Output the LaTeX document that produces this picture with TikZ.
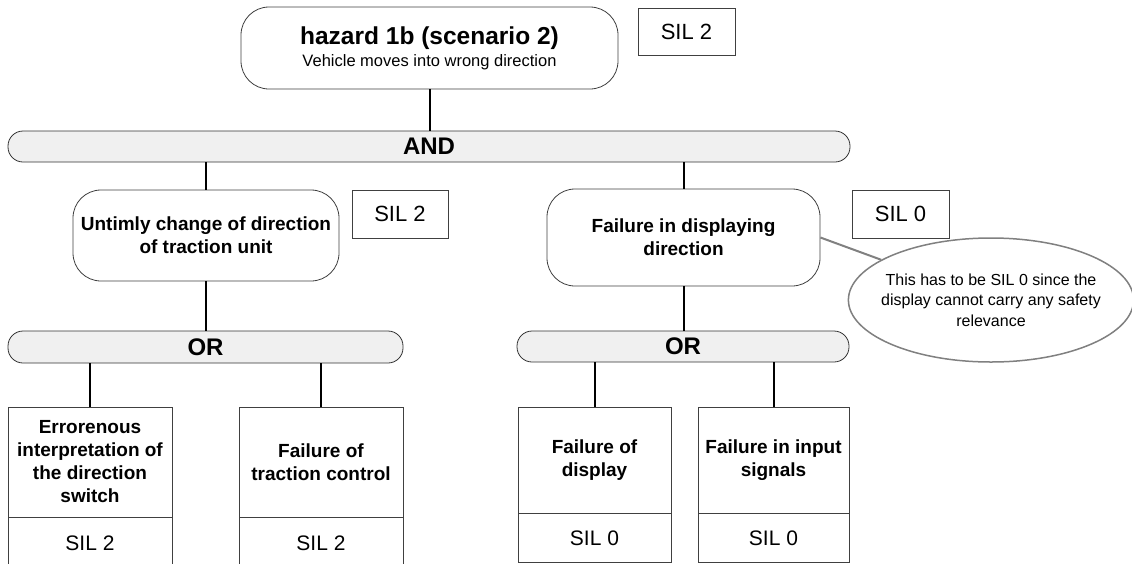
\documentclass[tikz,border=0pt]{standalone}
\usepackage{fontspec}
\setmainfont{Liberation Sans}
\usetikzlibrary{positioning,shapes.geometric}

\begin{document}
\begin{tikzpicture}[
  x=1pt,
  y=-1pt,
  eventNode/.style={draw=black!75, line width=0.8pt, fill=white, rounded corners=28pt, align=center, inner sep=0pt, font=\fontsize{19}{23}\selectfont\bfseries},
  gateBar/.style={draw=black!80, line width=0.8pt, fill=black!6, rounded corners=15pt, inner sep=0pt, font=\fontsize{24}{28}\selectfont\bfseries},
  silBox/.style={draw=black!75, line width=0.8pt, inner sep=0pt, minimum height=48pt, font=\fontsize{22}{25}\selectfont},
  basicBox/.style={draw=black!75, line width=0.8pt, inner sep=0pt, align=center, font=\fontsize{19}{23}\selectfont\bfseries},
  silPart/.style={draw=black!75, line width=0.8pt, inner sep=0pt, font=\fontsize{21}{24}\selectfont},
  noteEllipse/.style={ellipse, draw=black!50, line width=1.5pt, fill=white, inner xsep=-9pt, inner ysep=0pt, align=center, font=\fontsize{16}{20.5}\selectfont},
  noteLink/.style={draw=black!50, line width=2pt},
  stemLine/.style={line width=2pt, black}
]
\useasboundingbox (0,0) rectangle (1132,563);

% top event
\node[eventNode, minimum width=377pt, minimum height=82pt, font=\fontsize{16.5}{20}\selectfont] (hazard) at (429.5,48)
  {{\fontsize{24.5}{25}\selectfont\bfseries hazard 1b (scenario 2)}\\[2pt]Vehicle moves into wrong direction};
\node[silBox, minimum width=97pt, minimum height=47pt] (hazardSil) at (686.5,31.5) {SIL 2};

\node[gateBar, minimum width=842pt, minimum height=31pt] (andGate) at (429,146.5) {AND};

% second level
\node[eventNode, minimum width=266pt, minimum height=91pt] (untimely) at (206,235.5) {Untimly change of direction\\of traction unit};
\node[silBox, minimum width=96pt] (untimelySil) at (400,214) {SIL 2};

\node[eventNode, minimum width=273pt, minimum height=97pt] (dirFail) at (683.5,237.5) {Failure in displaying\\direction};
\node[silBox, minimum width=97pt] (dirFailSil) at (900.5,214) {SIL 0};

\node[noteEllipse, minimum width=278pt, minimum height=124pt] (note) at (991,300)
  {This has to be SIL 0 since the\\display cannot carry any safety\\relevance};
\draw[noteLink] (dirFail.east) -- (note);

\node[gateBar, minimum width=395pt, minimum height=32pt] (orLeft) at (205.5,347) {OR};
\node[gateBar, minimum width=332pt, minimum height=31pt] (orRight) at (683,346.5) {OR};

% basic events
\node[basicBox, minimum width=164pt, minimum height=110pt] (errInterp) at (90,462) {Errorenous\\interpretation of\\the direction\\switch};
\node[silPart, minimum width=164pt, minimum height=50pt, below=0pt of errInterp] (errInterpSil) {SIL 2};

\node[basicBox, minimum width=164pt, minimum height=110pt] (tracCtrl) at (321,462) {Failure of\\traction control};
\node[silPart, minimum width=164pt, minimum height=50pt, below=0pt of tracCtrl] (tracCtrlSil) {SIL 2};

\node[basicBox, minimum width=153pt, minimum height=106pt] (dispFail) at (594.5,460) {Failure of\\display};
\node[silPart, minimum width=153pt, minimum height=49pt, below=0pt of dispFail] (dispFailSil) {SIL 0};

\node[basicBox, minimum width=151pt, minimum height=106pt] (inputFail) at (773.5,460) {Failure in input\\signals};
\node[silPart, minimum width=151pt, minimum height=49pt, below=0pt of inputFail] (inputFailSil) {SIL 0};

% connections
\draw[stemLine] (hazard.south) -- (hazard.south |- andGate.north);
\draw[stemLine] (untimely.north) -- (untimely.north |- andGate.south);
\draw[stemLine] (dirFail.north) -- (dirFail.north |- andGate.south);
\draw[stemLine] (untimely.south) -- (untimely.south |- orLeft.north);
\draw[stemLine] (dirFail.south) -- (dirFail.south |- orRight.north);
\foreach \ev/\gt in {errInterp/orLeft, tracCtrl/orLeft, dispFail/orRight, inputFail/orRight}
  \draw[stemLine] (\ev.north) -- (\ev.north |- \gt.south);
\end{tikzpicture}
\end{document}
